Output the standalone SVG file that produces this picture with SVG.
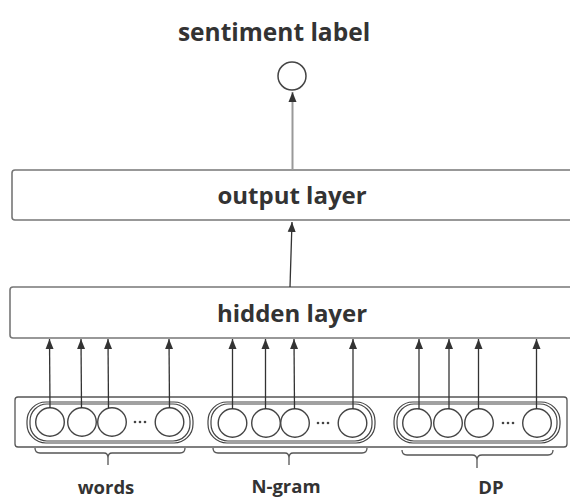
<svg xmlns="http://www.w3.org/2000/svg" width="570" height="499" viewBox="0 0 570 499">
  <defs>
    <marker id="head" viewBox="0 0 10 10" refX="10" refY="5" markerWidth="10" markerHeight="10" markerUnits="userSpaceOnUse" orient="auto">
      <path d="M0,1 L10,5 L0,9 Z" fill="#333"/>
    </marker>
    <style>
      .title { font-family: "Open Sans", "DejaVu Sans", sans-serif; font-weight: bold; fill: #333; text-anchor: middle; }
      .layer { fill: #fff; stroke: #777; stroke-width: 1.6; }
      .frame { fill: none; stroke: #555; stroke-width: 1.3; }
      .pill { fill: none; stroke: #444; stroke-width: 1.2; }
      .unit { fill: #fff; stroke: #444; stroke-width: 1.4; }
      .dots { fill: #444; }
      .brace { fill: none; stroke: #555; stroke-width: 1.3; stroke-linejoin: round; }
      .up { stroke: #333; stroke-width: 1.3; fill: none; marker-end: url(#head); }
      .up-light { stroke: #999; stroke-width: 2; fill: none; marker-end: url(#head); }
    </style>
  </defs>

  <!-- output unit -->
  <g id="sentiment">
    <text class="title" x="274" y="41" font-size="24.5">sentiment label</text>
    <circle cx="292" cy="76" r="14" fill="#fff" stroke="#444" stroke-width="1.5"/>
  </g>

  <g id="output-layer">
    <rect class="layer" x="12" y="170" width="570" height="50" rx="3"/>
    <text class="title" x="292" y="204" font-size="24">output layer</text>
  </g>

  <g id="hidden-layer">
    <rect class="layer" x="10" y="287" width="572" height="51" rx="3"/>
    <text class="title" x="292" y="322" font-size="24">hidden layer</text>
  </g>

  <!-- input block -->
  <g id="inputs">
    <rect class="frame" x="15" y="397" width="552" height="50" rx="3"/>
  </g>

  <g id="words">
    <rect class="pill" x="27" y="402" width="166" height="41" rx="19"/>
    <rect class="pill" x="30" y="404" width="160" height="37" rx="17"/>
    <circle class="unit" cx="50" cy="422" r="14.3"/>
    <circle class="unit" cx="82" cy="422" r="14.3"/>
    <circle class="unit" cx="112" cy="422" r="14.3"/>
    <circle class="dots" cx="135" cy="422" r="1.3"/>
    <circle class="dots" cx="140" cy="422" r="1.3"/>
    <circle class="dots" cx="145" cy="422" r="1.3"/>
    <circle class="unit" cx="169.5" cy="422" r="14.3"/>
    <path class="brace" d="M35,448 Q35,453 40,453 L104,453 Q108,453 108,458 L108,465 M108,458 Q108,453 112,453 L180,453 Q185,453 185,448"/>
    <text class="title" x="106" y="494" font-size="18.5">words</text>
  </g>

  <g id="ngram">
    <rect class="pill" x="208" y="402" width="167" height="41" rx="19"/>
    <rect class="pill" x="211" y="404" width="161" height="37" rx="17"/>
    <circle class="unit" cx="232.5" cy="423" r="14.3"/>
    <circle class="unit" cx="266" cy="423" r="14.3"/>
    <circle class="unit" cx="295" cy="423" r="14.3"/>
    <circle class="dots" cx="318" cy="423" r="1.3"/>
    <circle class="dots" cx="323" cy="423" r="1.3"/>
    <circle class="dots" cx="328" cy="423" r="1.3"/>
    <circle class="unit" cx="352.5" cy="423" r="14.3"/>
    <path class="brace" d="M213,448 Q213,453 218,453 L285,453 Q289,453 289,458 L289,465 M289,458 Q289,453 293,453 L362,453 Q367,453 367,448"/>
    <text class="title" x="286" y="493" font-size="18.5">N-gram</text>
  </g>

  <g id="dp">
    <rect class="pill" x="394" y="402" width="166" height="41" rx="19"/>
    <rect class="pill" x="397" y="404" width="160" height="37" rx="17"/>
    <circle class="unit" cx="417" cy="423" r="14.3"/>
    <circle class="unit" cx="448" cy="423" r="14.3"/>
    <circle class="unit" cx="479" cy="423" r="14.3"/>
    <circle class="dots" cx="503" cy="423" r="1.3"/>
    <circle class="dots" cx="508" cy="423" r="1.3"/>
    <circle class="dots" cx="513" cy="423" r="1.3"/>
    <circle class="unit" cx="537" cy="423" r="14.3"/>
    <path class="brace" d="M402,450 Q402,455 407,455 L472,455 Q477,455 477,460 L477,468 M477,460 Q477,455 482,455 L548,455 Q553,455 553,450"/>
    <text class="title" x="491" y="494" font-size="18.5">DP</text>
  </g>

  <!-- connectors -->
  <g id="connectors">
    <line class="up-light" x1="292.5" y1="170" x2="292.5" y2="92"/>
    <line class="up" x1="290" y1="287" x2="292" y2="222"/>

    <line class="up" x1="50" y1="408" x2="49.5" y2="339"/>
    <line class="up" x1="81.5" y1="408" x2="81" y2="339"/>
    <line class="up" x1="108.5" y1="408" x2="108" y2="339"/>
    <line class="up" x1="169.5" y1="408" x2="169" y2="339"/>

    <line class="up" x1="232.5" y1="409" x2="232.5" y2="339"/>
    <line class="up" x1="265.5" y1="409" x2="265.5" y2="339"/>
    <line class="up" x1="294.5" y1="409" x2="294" y2="339"/>
    <line class="up" x1="353" y1="409" x2="353" y2="339"/>

    <line class="up" x1="419" y1="409" x2="419" y2="339"/>
    <line class="up" x1="449" y1="409" x2="449" y2="339"/>
    <line class="up" x1="478.5" y1="409" x2="478.5" y2="339"/>
    <line class="up" x1="536.5" y1="409" x2="536.5" y2="339"/>
  </g>
</svg>
